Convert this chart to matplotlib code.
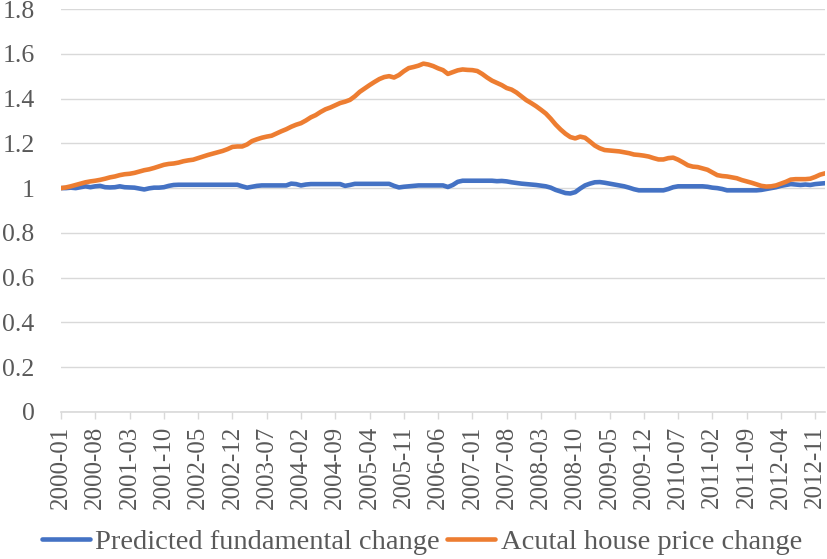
"""
Predicted fundamental vs. actual house price change, 2000-01 .. 2013-01
(values read off the reference chart, index 2000-01 = 1)
"""

import numpy as np
import pandas as pd
import matplotlib
matplotlib.use("Agg")
import matplotlib.pyplot as plt

plt.rcParams["font.family"] = ["Liberation Serif", "DejaVu Serif"]

# 月度标签
months = pd.period_range("2000-01", "2013-01", freq="M").strftime("%Y-%m").tolist()

# 预测基本面变化（蓝线）
predicted = [
    1.000, 1.000, 1.002, 1.000, 1.004, 1.008, 1.004, 1.008, 1.010, 1.004,
    1.003, 1.004, 1.008, 1.004, 1.003, 1.002, 0.998, 0.994, 0.999, 1.002,
    1.002, 1.004, 1.010, 1.014, 1.015, 1.015, 1.015, 1.015, 1.015, 1.015,
    1.015, 1.015, 1.015, 1.015, 1.015, 1.015, 1.015, 1.008, 1.002, 1.006,
    1.010, 1.012, 1.012, 1.012, 1.012, 1.012, 1.012, 1.020, 1.018, 1.012,
    1.016, 1.018, 1.018, 1.018, 1.018, 1.018, 1.018, 1.018, 1.010, 1.014,
    1.019, 1.019, 1.019, 1.019, 1.019, 1.019, 1.019, 1.019, 1.010, 1.003,
    1.006, 1.008, 1.010, 1.012, 1.012, 1.012, 1.012, 1.012, 1.012, 1.005,
    1.014, 1.028, 1.033, 1.033, 1.033, 1.033, 1.033, 1.033, 1.033, 1.031,
    1.032, 1.030, 1.026, 1.023, 1.020, 1.018, 1.016, 1.014, 1.011, 1.008,
    1.002, 0.992, 0.985, 0.978, 0.976, 0.982, 0.998, 1.012, 1.020, 1.026,
    1.027, 1.024, 1.020, 1.016, 1.012, 1.008, 1.002, 0.995, 0.990, 0.990,
    0.990, 0.990, 0.990, 0.990, 0.996, 1.004, 1.008, 1.008, 1.008, 1.008,
    1.008, 1.008, 1.006, 1.002, 1.000, 0.996, 0.990, 0.990, 0.990, 0.990,
    0.990, 0.990, 0.990, 0.992, 0.996, 1.000, 1.004, 1.010, 1.014, 1.018,
    1.016, 1.014, 1.016, 1.014, 1.018, 1.020, 1.022,
]

# 实际房价变化（橙线）
actual = [
    1.000, 1.003, 1.008, 1.014, 1.020, 1.026, 1.030, 1.033, 1.037, 1.042,
    1.048, 1.052, 1.058, 1.062, 1.064, 1.068, 1.074, 1.080, 1.084, 1.090,
    1.097, 1.104, 1.108, 1.110, 1.114, 1.120, 1.124, 1.127, 1.134, 1.141,
    1.148, 1.154, 1.160, 1.166, 1.174, 1.184, 1.186, 1.186, 1.195, 1.210,
    1.218, 1.225, 1.230, 1.234, 1.244, 1.254, 1.263, 1.274, 1.283, 1.290,
    1.302, 1.316, 1.326, 1.340, 1.352, 1.360, 1.370, 1.380, 1.386, 1.394,
    1.410, 1.430, 1.445, 1.460, 1.474, 1.487, 1.496, 1.500, 1.494, 1.505,
    1.522, 1.536, 1.541, 1.547, 1.556, 1.552, 1.545, 1.535, 1.527, 1.510,
    1.518, 1.526, 1.530, 1.528, 1.527, 1.523, 1.510, 1.494, 1.480, 1.470,
    1.460, 1.447, 1.440, 1.427, 1.410, 1.393, 1.380, 1.366, 1.350, 1.333,
    1.310, 1.284, 1.262, 1.243, 1.228, 1.222, 1.230, 1.225, 1.208, 1.190,
    1.178, 1.170, 1.168, 1.166, 1.164, 1.160, 1.156, 1.150, 1.148, 1.145,
    1.141, 1.134, 1.128, 1.128, 1.134, 1.136, 1.127, 1.115, 1.102, 1.096,
    1.094, 1.088, 1.082, 1.070, 1.058, 1.054, 1.052, 1.048, 1.044, 1.036,
    1.030, 1.024, 1.017, 1.010, 1.007, 1.008, 1.012, 1.020, 1.028, 1.038,
    1.040, 1.040, 1.040, 1.042, 1.050, 1.060, 1.066,
]

y_ticks = [0, 0.2, 0.4, 0.6, 0.8, 1, 1.2, 1.4, 1.6, 1.8]
y_labels = ["0", "0.2", "0.4", "0.6", "0.8", "1", "1.2", "1.4", "1.6", "1.8"]

BLUE = "#4472C4"
ORANGE = "#ED7D31"
GRID = "#D9D9D9"
TEXT = "#595959"

fig = plt.figure(figsize=(8.27, 5.59), dpi=100)
ax = fig.add_axes([61 / 827, 147 / 559, 764 / 827, 403 / 559])

x = np.arange(len(months))
ax.plot(x, predicted, color=BLUE, lw=3.3, solid_capstyle="round",
        label="Predicted fundamental change")
ax.plot(x, actual, color=ORANGE, lw=3.3, solid_capstyle="round",
        label="Acutal house price change")

ax.set_xlim(0, len(months) - 1)
ax.set_ylim(0, 1.8)
ax.set_yticks(y_ticks)
ax.set_yticklabels(y_labels)
tick_idx = x[::7]
ax.set_xticks(tick_idx)
ax.set_xticklabels([months[i] for i in tick_idx], rotation=90)

ax.grid(axis="y", color=GRID, lw=1)
ax.set_axisbelow(True)
for side in ("top", "right", "left"):
    ax.spines[side].set_visible(False)
ax.spines["bottom"].set_color(GRID)
ax.spines["bottom"].set_linewidth(1.2)
ax.spines["bottom"].set_zorder(0)

ax.tick_params(axis="y", length=0, pad=19, labelsize=18.5, labelcolor=TEXT)
ax.tick_params(axis="x", length=5, width=1, color=GRID, pad=5,
               labelsize=18, labelcolor=TEXT)

fig.legend(loc="center", bbox_to_anchor=(0.51, 0.03), ncol=2, frameon=False,
           fontsize=20.5, labelcolor=TEXT, handlelength=1.7, handletextpad=0.18,
           columnspacing=0.25)

fig.savefig("out.png", dpi=100)
plt.close(fig)
